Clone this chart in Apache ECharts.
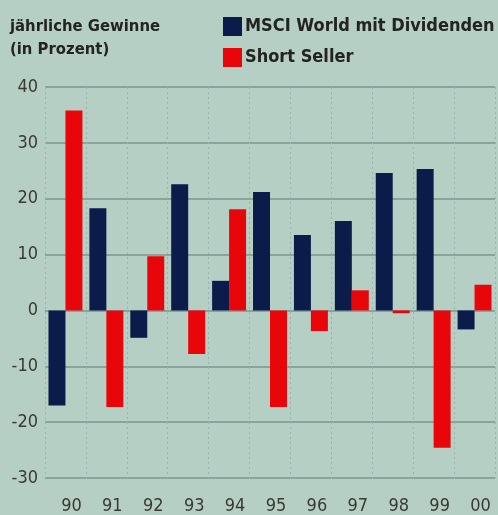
<!DOCTYPE html>
<html><head><meta charset="utf-8">
<script src="https://cdn.jsdelivr.net/npm/echarts@6/dist/echarts.min.js"></script>
<style>html,body{margin:0;padding:0;background:#b6cfc5;}#c{width:498px;height:515px;}</style>
</head><body><div id="c"></div>
<script>
const years = ['90','91','92','93','94','95','96','97','98','99','00'];
const msciWorld = [-17, 18.3, -4.9, 22.6, 5.3, 21.2, 13.5, 16.0, 24.6, 25.3, -3.4];
const shortSeller = [35.8, -17.3, 9.7, -7.8, 18.1, -17.3, -3.7, 3.6, -0.5, -24.6, 4.6];
const yTicks = {min: -30, max: 40, interval: 10};
const titleLines = ['jährliche Gewinne', '(in Prozent)'];
const seriesNames = ['MSCI World mit Dividenden', 'Short Seller'];

const font = "'DejaVu Sans Condensed', 'Liberation Sans', sans-serif";
const chart = echarts.init(document.getElementById('c'));
chart.setOption({
  backgroundColor: '#b6cfc5',
  animation: false,
  graphic: [{
    type: 'text', left: 10, top: 15,
    style: {text: titleLines.join('\n'), font: "bold 16.5px " + font, fill: '#232320', lineHeight: 23}
  }],
  legend: {
    orient: 'vertical', left: 218, top: 12, itemWidth: 19, itemHeight: 19, itemGap: 12,
    icon: 'rect',
    textStyle: {fontFamily: font, fontWeight: 'bold', fontSize: 18, color: '#232320', padding: [0,0,0,-2]},
    data: seriesNames
  },
  grid: {left: 45, right: 3, top: 87, bottom: 35},
  xAxis: {
    type: 'category', data: years,
    axisLine: {show: false}, axisTick: {show: false},
    axisLabel: {fontFamily: font, fontSize: 18, color: '#3a3a32', margin: 19, padding: [0,0,0,12]},
    splitLine: {show: true, lineStyle: {color: '#9bb3ad', width: 1, type: [2, 3]}}
  },
  yAxis: {
    type: 'value', min: yTicks.min, max: yTicks.max, interval: yTicks.interval,
    axisLine: {show: false}, axisTick: {show: false},
    axisLabel: {fontFamily: font, fontSize: 18, color: '#3a3a32', margin: 7},
    splitLine: {lineStyle: {color: '#8aa39e', width: 2}}
  },
  series: [
    {name: seriesNames[0], type: 'bar', data: msciWorld, barGap: '0%', barCategoryGap: '17%',
     itemStyle: {color: '#0b1c4b'}},
    {name: seriesNames[1], type: 'bar', data: shortSeller, barGap: '0%', barCategoryGap: '17%',
     itemStyle: {color: '#e8060a'}}
  ]
});
</script></body></html>
